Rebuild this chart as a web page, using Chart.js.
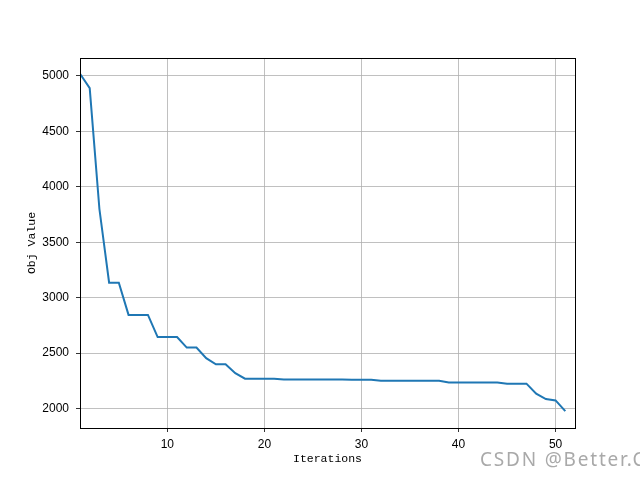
<!DOCTYPE html>
<html>
<head>
<meta charset="utf-8">
<script src="https://cdn.jsdelivr.net/npm/chart.js@4"></script>
<style>
  html, body { margin: 0; padding: 0; background: #fff; overflow: hidden; }
  #wrap { position: relative; width: 640px; height: 480px; overflow: hidden; }
  #mark {
    position: absolute; left: 480px; top: 446px; white-space: nowrap; letter-spacing: 1.8px;
    font-family: "Noto Sans", "Open Sans", sans-serif; font-size: 19px; color: #a9a9a9;
  }
</style>
</head>
<body>
<div id="wrap">
  <canvas id="myChart" width="640" height="480"></canvas>
  <div id="mark">CSDN @Better.C</div>
</div>
<script>
// iterations and objective values
const iterations = [1, 2, 3, 4, 5, 6, 7, 8, 9, 10, 11, 12, 13, 14, 15, 16, 17, 18, 19, 20,
    21, 22, 23, 24, 25, 26, 27, 28, 29, 30, 31, 32, 33, 34, 35, 36, 37, 38, 39, 40,
    41, 42, 43, 44, 45, 46, 47, 48, 49, 50, 51];
const objValues = [5020, 4890, 3800, 3135, 3135, 2845, 2845, 2845, 2645, 2645,
    2645, 2550, 2550, 2455, 2400, 2400, 2320, 2270, 2270, 2270,
    2270, 2263, 2263, 2263, 2263, 2263, 2263, 2263, 2261, 2261,
    2261, 2252, 2252, 2252, 2252, 2252, 2252, 2252, 2236, 2236,
    2236, 2236, 2236, 2236, 2225, 2225, 2225, 2134, 2086, 2074,
    1977];
const xTicks = [10, 20, 30, 40, 50];
const yTicks = [2000, 2500, 3000, 3500, 4000, 4500, 5000];

window.onload = function () {
    const points = iterations.map(function (it, i) {
        return { x: it, y: objValues[i] };
    });
    showChart(points);
};

// black frame round the plot area, like matplotlib spines
const frame = {
    id: 'frame',
    afterDraw(chart) {
        const a = chart.chartArea;
        const c = chart.ctx;
        c.save();
        c.strokeStyle = '#000';
        c.lineWidth = 1;
        c.strokeRect(Math.round(a.left) + 0.5, Math.round(a.top) + 0.5,
            Math.round(a.right - a.left), Math.round(a.bottom - a.top));
        c.restore();
    }
};

function showChart(points) {
    const ctx = document.getElementById('myChart');
    const tickFont = { family: '"Liberation Sans", sans-serif', size: 12 };
    const titleFont = { family: '"Liberation Mono", "DejaVu Sans Mono", monospace', size: 11.5 };

    new Chart(ctx, {
        type: 'line',
        data: {
            datasets: [{
                data: points,
                borderColor: '#1f77b4',
                borderWidth: 2,
                pointRadius: 0,
                tension: 0,
                fill: false
            }]
        },
        options: {
            responsive: false,
            animation: false,
            layout: { padding: { top: 58, right: 65, left: 0, bottom: 0 } },
            plugins: { legend: { display: false }, tooltip: { enabled: false } },
            scales: {
                x: {
                    type: 'linear',
                    min: 1,
                    max: 52,
                    afterBuildTicks: function (s) { s.ticks = xTicks.map(v => ({ value: v })); },
                    afterFit: function (s) { s.height = 52; },
                    grid: { color: '#b0b0b0', lineWidth: 0.8, tickColor: '#000', tickLength: 4 },
                    border: { color: '#000' },
                    ticks: { color: '#000', font: tickFont, padding: 5, maxRotation: 0,
                        callback: v => String(v) },
                    title: { display: true, text: 'Iterations', color: '#000', font: titleFont,
                        padding: { top: 0, bottom: 14 } }
                },
                y: {
                    min: 1825,
                    max: 5162,
                    afterBuildTicks: function (s) { s.ticks = yTicks.map(v => ({ value: v })); },
                    afterFit: function (s) { s.width = 80; },
                    grid: { color: '#b0b0b0', lineWidth: 0.8, tickColor: '#000', tickLength: 4 },
                    border: { color: '#000' },
                    ticks: { color: '#000', font: tickFont, padding: 7,
                        callback: v => String(v) },
                    title: { display: true, text: 'Obj Value', color: '#000', font: titleFont,
                        padding: { top: 25, bottom: 0 } }
                }
            }
        },
        plugins: [frame]
    });
}
</script>
</body>
</html>
